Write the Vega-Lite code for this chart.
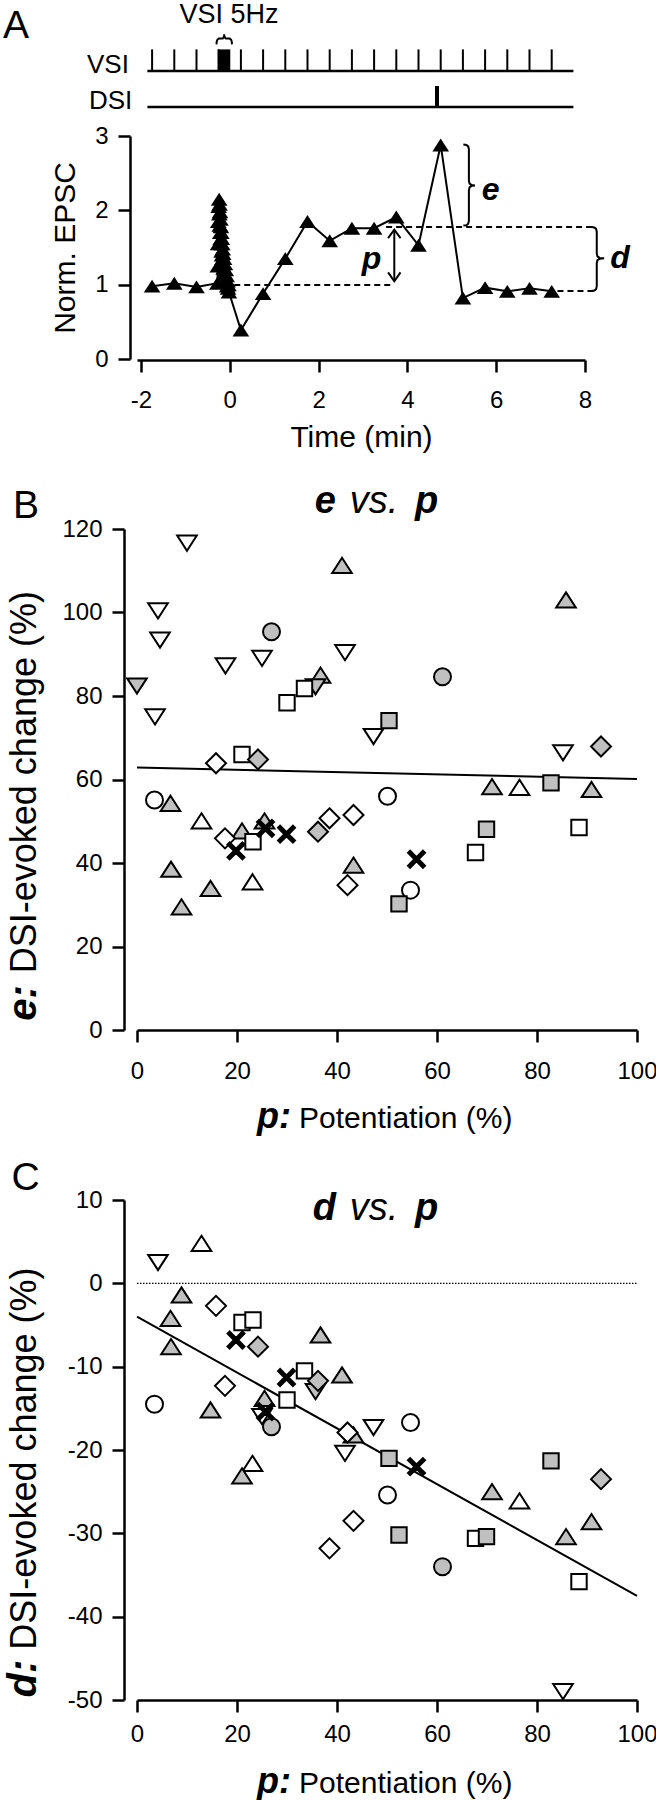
{
  "$schema": "https://vega.github.io/schema/vega-lite/v6.json",
  "padding": {"left": 2, "top": 0, "right": 0, "bottom": 0},
  "bounds": "flush",
  "columns": 1,
  "spacing": 170,
  "config": {
    "font": "Liberation Sans",
    "view": {"stroke": null},
    "axis": {"domainColor": "black", "domainWidth": 2.5, "tickColor": "black", "tickWidth": 2.5, "tickSize": 12, "labelFontSize": 24, "labelColor": "black", "titleFontSize": 30, "titleFontWeight": "normal", "titleColor": "black", "grid": false, "labelFlush": false, "labelOverlap": false, "labelFont": "Liberation Sans", "titleFont": "Liberation Sans", "labelExpr": "'' + datum.value"},
    "text": {"color": "black"}
  },
  "datasets": {
    "epsc": [
      {"i": 0, "t": -1.75, "v": 0.98}, {"i": 1, "t": -1.25, "v": 1.02}, {"i": 2, "t": -0.75, "v": 0.97},
      {"i": 3, "t": -0.28, "v": 1.02}, {"i": 4, "t": -0.27, "v": 1.25}, {"i": 5, "t": -0.265, "v": 1.55}, {"i": 6, "t": -0.26, "v": 1.85},
      {"i": 7, "t": -0.25, "v": 2.05}, {"i": 8, "t": -0.24, "v": 2.15}, {"i": 9, "t": -0.235, "v": 1.95}, {"i": 10, "t": -0.23, "v": 2.08},
      {"i": 11, "t": -0.225, "v": 1.8}, {"i": 12, "t": -0.22, "v": 1.98}, {"i": 13, "t": -0.215, "v": 1.7}, {"i": 14, "t": -0.21, "v": 1.88},
      {"i": 15, "t": -0.205, "v": 1.62}, {"i": 16, "t": -0.2, "v": 1.78}, {"i": 17, "t": -0.195, "v": 1.55}, {"i": 18, "t": -0.19, "v": 1.7},
      {"i": 19, "t": -0.185, "v": 1.45}, {"i": 20, "t": -0.18, "v": 1.62}, {"i": 21, "t": -0.175, "v": 1.4}, {"i": 22, "t": -0.17, "v": 1.55},
      {"i": 23, "t": -0.165, "v": 1.35}, {"i": 24, "t": -0.16, "v": 1.48}, {"i": 25, "t": -0.155, "v": 1.28}, {"i": 26, "t": -0.15, "v": 1.42},
      {"i": 27, "t": -0.14, "v": 1.22}, {"i": 28, "t": -0.13, "v": 1.35}, {"i": 29, "t": -0.12, "v": 1.15}, {"i": 30, "t": -0.11, "v": 1.28},
      {"i": 31, "t": -0.1, "v": 1.08}, {"i": 32, "t": -0.09, "v": 1.2}, {"i": 33, "t": -0.08, "v": 1.05}, {"i": 34, "t": -0.07, "v": 1.12},
      {"i": 35, "t": -0.06, "v": 0.98}, {"i": 36, "t": -0.05, "v": 1.05}, {"i": 37, "t": -0.04, "v": 0.95}, {"i": 38, "t": -0.03, "v": 1.0},
      {"i": 39, "t": -0.02, "v": 0.9},
      {"i": 40, "t": 0.25, "v": 0.39}, {"i": 41, "t": 0.75, "v": 0.88}, {"i": 42, "t": 1.25, "v": 1.35}, {"i": 43, "t": 1.75, "v": 1.85},
      {"i": 44, "t": 2.25, "v": 1.59}, {"i": 45, "t": 2.75, "v": 1.76}, {"i": 46, "t": 3.25, "v": 1.76}, {"i": 47, "t": 3.75, "v": 1.91},
      {"i": 48, "t": 4.25, "v": 1.53}, {"i": 49, "t": 4.75, "v": 2.88}, {"i": 50, "t": 5.25, "v": 0.82}, {"i": 51, "t": 5.75, "v": 0.96},
      {"i": 52, "t": 6.25, "v": 0.91}, {"i": 53, "t": 6.75, "v": 0.95}, {"i": 54, "t": 7.25, "v": 0.91}
    ],
    "vsi": [
      {"t": -1.75}, {"t": -1.25}, {"t": -0.75}, {"t": -0.25}, {"t": 0.25}, {"t": 0.75}, {"t": 1.25}, {"t": 1.75}, {"t": 2.25}, {"t": 2.75},
      {"t": 3.25}, {"t": 3.75}, {"t": 4.25}, {"t": 4.75}, {"t": 5.25}, {"t": 5.75}, {"t": 6.25}, {"t": 6.75}, {"t": 7.25}
    ],
    "dashA": [
      {"t1": 0.10, "t2": 3.70, "v": 0.995},
      {"t1": 3.52, "t2": 8.21, "v": 1.776},
      {"t1": 7.38, "t2": 8.21, "v": 0.915}
    ],
    "annA": [
      {"g": "bt", "i": 0, "t": -0.30, "v": 4.232}, {"g": "bt", "i": 1, "t": -0.295, "v": 4.27}, {"g": "bt", "i": 2, "t": -0.28, "v": 4.295},
      {"g": "bt", "i": 3, "t": -0.25, "v": 4.31}, {"g": "bt", "i": 4, "t": -0.16, "v": 4.31}, {"g": "bt", "i": 5, "t": -0.14, "v": 4.325},
      {"g": "bt", "i": 6, "t": -0.13, "v": 4.35}, {"g": "bt", "i": 7, "t": -0.126, "v": 4.367}, {"g": "bt", "i": 8, "t": -0.122, "v": 4.35},
      {"g": "bt", "i": 9, "t": -0.112, "v": 4.325}, {"g": "bt", "i": 10, "t": -0.09, "v": 4.31}, {"g": "bt", "i": 11, "t": 0.0, "v": 4.31},
      {"g": "bt", "i": 12, "t": 0.03, "v": 4.295}, {"g": "bt", "i": 13, "t": 0.044, "v": 4.27}, {"g": "bt", "i": 14, "t": 0.049, "v": 4.232},
      {"g": "be", "i": 0, "t": 5.26, "v": 2.887}, {"g": "be", "i": 1, "t": 5.33, "v": 2.88}, {"g": "be", "i": 2, "t": 5.37, "v": 2.86},
      {"g": "be", "i": 3, "t": 5.385, "v": 2.82}, {"g": "be", "i": 4, "t": 5.385, "v": 2.40}, {"g": "be", "i": 5, "t": 5.40, "v": 2.36},
      {"g": "be", "i": 6, "t": 5.45, "v": 2.34}, {"g": "be", "i": 7, "t": 5.52, "v": 2.335}, {"g": "be", "i": 8, "t": 5.45, "v": 2.33},
      {"g": "be", "i": 9, "t": 5.40, "v": 2.31}, {"g": "be", "i": 10, "t": 5.385, "v": 2.27}, {"g": "be", "i": 11, "t": 5.385, "v": 1.86},
      {"g": "be", "i": 12, "t": 5.37, "v": 1.82}, {"g": "be", "i": 13, "t": 5.33, "v": 1.80}, {"g": "be", "i": 14, "t": 5.26, "v": 1.797},
      {"g": "bd", "i": 0, "t": 8.14, "v": 1.776}, {"g": "bd", "i": 1, "t": 8.21, "v": 1.77}, {"g": "bd", "i": 2, "t": 8.25, "v": 1.75},
      {"g": "bd", "i": 3, "t": 8.265, "v": 1.71}, {"g": "bd", "i": 4, "t": 8.265, "v": 1.42}, {"g": "bd", "i": 5, "t": 8.28, "v": 1.38},
      {"g": "bd", "i": 6, "t": 8.33, "v": 1.36}, {"g": "bd", "i": 7, "t": 8.43, "v": 1.354}, {"g": "bd", "i": 8, "t": 8.33, "v": 1.348},
      {"g": "bd", "i": 9, "t": 8.28, "v": 1.33}, {"g": "bd", "i": 10, "t": 8.265, "v": 1.29}, {"g": "bd", "i": 11, "t": 8.265, "v": 0.98},
      {"g": "bd", "i": 12, "t": 8.25, "v": 0.94}, {"g": "bd", "i": 13, "t": 8.21, "v": 0.92}, {"g": "bd", "i": 14, "t": 8.14, "v": 0.915},
      {"g": "sh", "i": 0, "t": 3.705, "v": 1.05}, {"g": "sh", "i": 1, "t": 3.705, "v": 1.735},
      {"g": "a1", "i": 0, "t": 3.565, "v": 1.625}, {"g": "a1", "i": 1, "t": 3.705, "v": 1.74}, {"g": "a1", "i": 2, "t": 3.845, "v": 1.625},
      {"g": "a2", "i": 0, "t": 3.565, "v": 1.165}, {"g": "a2", "i": 1, "t": 3.705, "v": 1.045}, {"g": "a2", "i": 2, "t": 3.845, "v": 1.165}
    ],
    "cells": [
      {"sym": "o", "fill": "w", "p": 3.5, "e": 55.1, "d": -14.5},
      {"sym": "o", "fill": "w", "p": 50.1, "e": 56.0, "d": -25.4},
      {"sym": "o", "fill": "w", "p": 54.7, "e": 33.5, "d": -16.7},
      {"sym": "o", "fill": "g", "p": 26.9, "e": 95.4, "d": -17.2},
      {"sym": "o", "fill": "g", "p": 61.1, "e": 84.6, "d": -34.0},
      {"sym": "t", "fill": "w", "p": 12.9, "e": 50.1, "d": 4.8},
      {"sym": "t", "fill": "w", "p": 23.1, "e": 35.5, "d": -21.6},
      {"sym": "t", "fill": "w", "p": 76.5, "e": 58.1, "d": -26.1},
      {"sym": "t", "fill": "g", "p": 41.0, "e": 111.3, "d": -11.0},
      {"sym": "t", "fill": "g", "p": 85.8, "e": 103.0, "d": -30.4},
      {"sym": "t", "fill": "g", "p": 36.7, "e": 85.0, "d": -6.2},
      {"sym": "t", "fill": "g", "p": 71.0, "e": 58.3, "d": -25.0},
      {"sym": "t", "fill": "g", "p": 90.9, "e": 57.6, "d": -28.6},
      {"sym": "t", "fill": "g", "p": 6.7, "e": 54.3, "d": -4.2},
      {"sym": "t", "fill": "g", "p": 21.0, "e": 47.7, "d": -23.1},
      {"sym": "t", "fill": "g", "p": 25.5, "e": 50.1, "d": -13.8},
      {"sym": "t", "fill": "g", "p": 6.8, "e": 38.5, "d": -7.6},
      {"sym": "t", "fill": "g", "p": 14.7, "e": 33.9, "d": -15.2},
      {"sym": "t", "fill": "g", "p": 8.9, "e": 29.5, "d": -1.4},
      {"sym": "t", "fill": "g", "p": 43.3, "e": 39.5, "d": -18.2},
      {"sym": "v", "fill": "w", "p": 10.0, "e": 116.6, "d": null},
      {"sym": "v", "fill": "w", "p": 4.2, "e": 100.4, "d": 2.5},
      {"sym": "v", "fill": "w", "p": 4.6, "e": 93.4, "d": null},
      {"sym": "v", "fill": "w", "p": 41.6, "e": 90.4, "d": -20.4},
      {"sym": "v", "fill": "w", "p": 25.0, "e": 89.0, "d": -16.0},
      {"sym": "v", "fill": "w", "p": 17.7, "e": 87.2, "d": null},
      {"sym": "v", "fill": "w", "p": 3.6, "e": 75.0, "d": null},
      {"sym": "v", "fill": "w", "p": 47.3, "e": 70.3, "d": -17.3},
      {"sym": "v", "fill": "w", "p": 85.2, "e": 66.4, "d": -49.0},
      {"sym": "v", "fill": "g", "p": 0.0, "e": 82.4, "d": null},
      {"sym": "v", "fill": "g", "p": 35.7, "e": 82.2, "d": -13.0},
      {"sym": "s", "fill": "w", "p": 33.5, "e": 81.8, "d": -10.5},
      {"sym": "s", "fill": "w", "p": 30.0, "e": 78.4, "d": -14.0},
      {"sym": "s", "fill": "w", "p": 21.0, "e": 66.0, "d": -4.7},
      {"sym": "s", "fill": "w", "p": 23.2, "e": 45.1, "d": -4.4},
      {"sym": "s", "fill": "w", "p": 67.7, "e": 42.5, "d": -30.6},
      {"sym": "s", "fill": "w", "p": 88.4, "e": 48.5, "d": -35.8},
      {"sym": "s", "fill": "g", "p": 50.4, "e": 74.1, "d": -21.0},
      {"sym": "s", "fill": "g", "p": 82.8, "e": 59.2, "d": -21.3},
      {"sym": "s", "fill": "g", "p": 52.4, "e": 30.2, "d": -30.2},
      {"sym": "s", "fill": "g", "p": 69.9, "e": 48.1, "d": -30.4},
      {"sym": "d", "fill": "w", "p": 15.8, "e": 63.9, "d": -2.7},
      {"sym": "d", "fill": "w", "p": 17.6, "e": 45.9, "d": -12.3},
      {"sym": "d", "fill": "w", "p": 38.5, "e": 50.7, "d": -31.8},
      {"sym": "d", "fill": "w", "p": 43.3, "e": 51.5, "d": -28.5},
      {"sym": "d", "fill": "w", "p": 42.1, "e": 34.7, "d": -17.9},
      {"sym": "d", "fill": "g", "p": 24.2, "e": 64.8, "d": -7.6},
      {"sym": "d", "fill": "g", "p": 36.2, "e": 47.5, "d": -11.7},
      {"sym": "d", "fill": "g", "p": 92.8, "e": 67.9, "d": -23.5},
      {"sym": "x", "fill": "k", "p": 19.8, "e": 42.9, "d": -6.8},
      {"sym": "x", "fill": "k", "p": 25.7, "e": 48.3, "d": -15.4},
      {"sym": "x", "fill": "k", "p": 29.9, "e": 46.9, "d": -11.3},
      {"sym": "x", "fill": "k", "p": 55.9, "e": 40.9, "d": -22.0}
    ],
    "fitB": [{"p": 0, "e": 62.9}, {"p": 100, "e": 60.1}],
    "fitC": [{"p": 0, "d": -4.0}, {"p": 100, "d": -37.5}]
  },
  "concat": [
    {
      "width": 448,
      "height": 223,
      "layer": [
        {
          "data": {"name": "vsi"},
          "mark": {"type": "rule", "color": "black", "strokeWidth": 2},
          "encoding": {
            "x": {"field": "t", "type": "quantitative", "title": "Time (min)", "scale": {"domain": [-2.09, 8], "nice": false, "zero": false},
                  "axis": {"values": [-2, 0, 2, 4, 6, 8], "offset": 1, "labelPadding": 16, "titlePadding": 10}},
            "y": {"datum": 3.874, "type": "quantitative", "title": "Norm. EPSC", "scale": {"domain": [0, 3], "nice": false, "zero": false},
                  "axis": {"values": [0, 1, 2, 3], "offset": 7, "labelPadding": 10, "titlePadding": 14}},
            "y2": {"datum": 4.165}
          }
        },
        {
          "data": {"values": [{}]},
          "mark": {"type": "rect", "color": "black"},
          "encoding": {"x": {"datum": -0.272}, "x2": {"datum": 0.011}, "y": {"datum": 3.874}, "y2": {"datum": 4.165}}
        },
        {
          "data": {"values": [{}]},
          "mark": {"type": "rule", "color": "black", "strokeWidth": 2.5},
          "encoding": {"x": {"datum": -1.856}, "x2": {"datum": 7.739}, "y": {"datum": 3.874}}
        },
        {
          "data": {"values": [{}]},
          "mark": {"type": "rule", "color": "black", "strokeWidth": 2.5},
          "encoding": {"x": {"datum": -1.856}, "x2": {"datum": 7.739}, "y": {"datum": 3.39}}
        },
        {
          "data": {"values": [{}]},
          "mark": {"type": "rule", "color": "black", "strokeWidth": 4},
          "encoding": {"x": {"datum": 4.667}, "y": {"datum": 3.39}, "y2": {"datum": 3.673}}
        },
        {
          "data": {"name": "dashA"},
          "mark": {"type": "rule", "color": "black", "strokeWidth": 2, "strokeDash": [6, 4]},
          "encoding": {"x": {"field": "t1", "type": "quantitative", "title": "Time (min)"}, "x2": {"field": "t2"}, "y": {"field": "v", "type": "quantitative", "title": "Norm. EPSC"}}
        },
        {
          "data": {"name": "annA"},
          "mark": {"type": "line", "color": "black", "strokeWidth": 2},
          "encoding": {
            "x": {"field": "t", "type": "quantitative", "title": "Time (min)"},
            "y": {"field": "v", "type": "quantitative", "title": "Norm. EPSC"},
            "detail": {"field": "g"},
            "order": {"field": "i", "type": "quantitative"}
          }
        },
        {
          "data": {"name": "epsc"},
          "mark": {"type": "line", "color": "black", "strokeWidth": 2},
          "encoding": {
            "x": {"field": "t", "type": "quantitative", "title": "Time (min)"},
            "y": {"field": "v", "type": "quantitative", "title": "Norm. EPSC"},
            "order": {"field": "i", "type": "quantitative"}
          }
        },
        {
          "data": {"name": "epsc"},
          "mark": {"type": "point", "filled": true, "color": "black", "opacity": 1, "size": 289, "shape": "M0,-0.76L0.98,0.76L-0.98,0.76Z"},
          "encoding": {
            "x": {"field": "t", "type": "quantitative", "title": "Time (min)"},
            "y": {"field": "v", "type": "quantitative", "title": "Norm. EPSC"}
          }
        },
        {
          "data": {"values": [{}]},
          "mark": {"type": "text", "text": "A", "fontSize": 39, "align": "left", "baseline": "alphabetic"},
          "encoding": {"x": {"datum": -5.108}, "y": {"datum": 4.322}}
        },
        {
          "data": {"values": [{}]},
          "mark": {"type": "text", "text": "VSI", "fontSize": 26, "align": "left", "baseline": "alphabetic"},
          "encoding": {"x": {"datum": -3.216}, "y": {"datum": 3.852}}
        },
        {
          "data": {"values": [{}]},
          "mark": {"type": "text", "text": "DSI", "fontSize": 26, "align": "left", "baseline": "alphabetic"},
          "encoding": {"x": {"datum": -3.171}, "y": {"datum": 3.367}}
        },
        {
          "data": {"values": [{}]},
          "mark": {"type": "text", "text": "VSI 5Hz", "fontSize": 27, "align": "center", "baseline": "alphabetic"},
          "encoding": {"x": {"datum": -0.018}, "y": {"datum": 4.524}}
        },
        {
          "data": {"values": [{}]},
          "mark": {"type": "text", "text": "e", "fontSize": 32, "fontWeight": "bold", "fontStyle": "italic", "align": "center", "baseline": "alphabetic"},
          "encoding": {"x": {"datum": 5.876}, "y": {"datum": 2.139}}
        },
        {
          "data": {"values": [{}]},
          "mark": {"type": "text", "text": "d", "fontSize": 32, "fontWeight": "bold", "fontStyle": "italic", "align": "center", "baseline": "alphabetic"},
          "encoding": {"x": {"datum": 8.79}, "y": {"datum": 1.228}}
        },
        {
          "data": {"values": [{}]},
          "mark": {"type": "text", "text": "p", "fontSize": 32, "fontWeight": "bold", "fontStyle": "italic", "align": "center", "baseline": "alphabetic"},
          "encoding": {"x": {"datum": 3.19}, "y": {"datum": 1.215}}
        }
      ]
    },
    {
      "width": 500,
      "height": 501,
      "layer": [
        {
          "data": {"name": "fitB"},
          "mark": {"type": "line", "color": "black", "strokeWidth": 2},
          "encoding": {
            "x": {"field": "p", "type": "quantitative", "title": null, "scale": {"domain": [0, 100], "nice": false, "zero": false},
                  "axis": {"values": [0, 20, 40, 60, 80, 100], "offset": 0, "labelPadding": 17}},
            "y": {"field": "e", "type": "quantitative", "title": null, "scale": {"domain": [0, 120], "nice": false, "zero": false},
                  "axis": {"values": [0, 20, 40, 60, 80, 100, 120], "offset": 13, "labelPadding": 10}}
          }
        },
        {
          "data": {"name": "cells"},
          "mark": {"type": "point", "filled": true, "opacity": 1, "size": 400, "stroke": "black", "strokeWidth": 2},
          "encoding": {
            "x": {"field": "p", "type": "quantitative", "title": null},
            "y": {"field": "e", "type": "quantitative", "title": null},
            "shape": {"field": "sym", "type": "nominal", "legend": null,
              "scale": {"domain": ["o", "t", "v", "s", "d", "x"],
                        "range": ["M0.85,0A0.85,0.85,0,1,1,-0.85,0A0.85,0.85,0,1,1,0.85,0Z", "M0,-0.76L0.98,0.76L-0.98,0.76Z", "M0,0.76L0.98,-0.76L-0.98,-0.76Z", "M-0.77,-0.77L0.77,-0.77L0.77,0.77L-0.77,0.77Z", "M0,-1L1,0L0,1L-1,0Z", "M-0.85,-0.64L-0.64,-0.85L0,-0.21L0.64,-0.85L0.85,-0.64L0.21,0L0.85,0.64L0.64,0.85L0,0.21L-0.64,0.85L-0.85,0.64L-0.21,0Z"]}},
            "fill": {"field": "fill", "type": "nominal", "legend": null,
              "scale": {"domain": ["w", "g", "k"], "range": ["#ffffff", "#c0c0c0", "#000000"]}}
          }
        },
        {
          "data": {"values": [{}]},
          "mark": {"type": "text", "text": "B", "fontSize": 39, "align": "left", "baseline": "alphabetic"},
          "encoding": {"x": {"datum": -24.8}, "y": {"datum": 122.6}}
        },
        {
          "data": {"values": [{}]},
          "mark": {"type": "text", "text": "e", "fontSize": 38, "fontWeight": "bold", "fontStyle": "italic", "align": "right", "baseline": "alphabetic"},
          "encoding": {"x": {"datum": 39.8}, "y": {"datum": 123.8}}
        },
        {
          "data": {"values": [{}]},
          "mark": {"type": "text", "text": "vs.", "fontSize": 38, "fontStyle": "italic", "align": "center", "baseline": "alphabetic"},
          "encoding": {"x": {"datum": 47.4}, "y": {"datum": 123.8}}
        },
        {
          "data": {"values": [{}]},
          "mark": {"type": "text", "text": "p", "fontSize": 38, "fontWeight": "bold", "fontStyle": "italic", "align": "left", "baseline": "alphabetic"},
          "encoding": {"x": {"datum": 55.6}, "y": {"datum": 123.8}}
        },
        {
          "data": {"values": [{}]},
          "mark": {"type": "text", "text": "p:", "fontSize": 36, "fontWeight": "bold", "fontStyle": "italic", "align": "right", "baseline": "alphabetic"},
          "encoding": {"x": {"datum": 30.8}, "y": {"datum": -23.5}}
        },
        {
          "data": {"values": [{}]},
          "mark": {"type": "text", "text": "Potentiation (%)", "fontSize": 30, "align": "left", "baseline": "alphabetic"},
          "encoding": {"x": {"datum": 32.4}, "y": {"datum": -23.5}}
        },
        {
          "data": {"values": [{}]},
          "mark": {"type": "text", "text": "e:", "fontSize": 40, "fontWeight": "bold", "fontStyle": "italic", "align": "left", "baseline": "alphabetic", "angle": 270},
          "encoding": {"x": {"datum": -20.3}, "y": {"datum": 2.2}}
        },
        {
          "data": {"values": [{}]},
          "mark": {"type": "text", "text": "DSI-evoked change (%)", "fontSize": 36, "align": "left", "baseline": "alphabetic", "angle": 270},
          "encoding": {"x": {"datum": -20.3}, "y": {"datum": 13.6}}
        }
      ]
    },
    {
      "width": 500,
      "height": 500,
      "layer": [
        {
          "data": {"values": [{}]},
          "mark": {"type": "rule", "color": "black", "strokeWidth": 1.2, "strokeDash": [1.5, 1.5]},
          "encoding": {
            "x": {"datum": 0, "scale": {"domain": [0, 100], "nice": false, "zero": false},
                  "axis": {"values": [0, 20, 40, 60, 80, 100], "offset": 0, "labelPadding": 10, "title": null}},
            "x2": {"datum": 100},
            "y": {"datum": 0, "scale": {"domain": [-50, 10], "nice": false, "zero": false},
                  "axis": {"values": [-50, -40, -30, -20, -10, 0, 10], "offset": 13, "labelPadding": 10, "title": null}}
          }
        },
        {
          "data": {"name": "fitC"},
          "mark": {"type": "line", "color": "black", "strokeWidth": 2},
          "encoding": {
            "x": {"field": "p", "type": "quantitative", "title": null},
            "y": {"field": "d", "type": "quantitative", "title": null}
          }
        },
        {
          "data": {"name": "cells"},
          "transform": [{"filter": "datum.d != null"}],
          "mark": {"type": "point", "filled": true, "opacity": 1, "size": 400, "stroke": "black", "strokeWidth": 2},
          "encoding": {
            "x": {"field": "p", "type": "quantitative", "title": null},
            "y": {"field": "d", "type": "quantitative", "title": null},
            "shape": {"field": "sym", "type": "nominal", "legend": null,
              "scale": {"domain": ["o", "t", "v", "s", "d", "x"],
                        "range": ["M0.85,0A0.85,0.85,0,1,1,-0.85,0A0.85,0.85,0,1,1,0.85,0Z", "M0,-0.76L0.98,0.76L-0.98,0.76Z", "M0,0.76L0.98,-0.76L-0.98,-0.76Z", "M-0.77,-0.77L0.77,-0.77L0.77,0.77L-0.77,0.77Z", "M0,-1L1,0L0,1L-1,0Z", "M-0.85,-0.64L-0.64,-0.85L0,-0.21L0.64,-0.85L0.85,-0.64L0.21,0L0.85,0.64L0.64,0.85L0,0.21L-0.64,0.85L-0.85,0.64L-0.21,0Z"]}},
            "fill": {"field": "fill", "type": "nominal", "legend": null,
              "scale": {"domain": ["w", "g", "k"], "range": ["#ffffff", "#c0c0c0", "#000000"]}}
          }
        },
        {
          "data": {"values": [{}]},
          "mark": {"type": "text", "text": "C", "fontSize": 39, "align": "left", "baseline": "alphabetic"},
          "encoding": {"x": {"datum": -25.1}, "y": {"datum": 11.16}}
        },
        {
          "data": {"values": [{}]},
          "mark": {"type": "text", "text": "d", "fontSize": 38, "fontWeight": "bold", "fontStyle": "italic", "align": "right", "baseline": "alphabetic"},
          "encoding": {"x": {"datum": 39.8}, "y": {"datum": 7.6}}
        },
        {
          "data": {"values": [{}]},
          "mark": {"type": "text", "text": "vs.", "fontSize": 38, "fontStyle": "italic", "align": "center", "baseline": "alphabetic"},
          "encoding": {"x": {"datum": 47.4}, "y": {"datum": 7.6}}
        },
        {
          "data": {"values": [{}]},
          "mark": {"type": "text", "text": "p", "fontSize": 38, "fontWeight": "bold", "fontStyle": "italic", "align": "left", "baseline": "alphabetic"},
          "encoding": {"x": {"datum": 55.6}, "y": {"datum": 7.6}}
        },
        {
          "data": {"values": [{}]},
          "mark": {"type": "text", "text": "p:", "fontSize": 36, "fontWeight": "bold", "fontStyle": "italic", "align": "right", "baseline": "alphabetic"},
          "encoding": {"x": {"datum": 30.8}, "y": {"datum": -61.2}}
        },
        {
          "data": {"values": [{}]},
          "mark": {"type": "text", "text": "Potentiation (%)", "fontSize": 30, "align": "left", "baseline": "alphabetic"},
          "encoding": {"x": {"datum": 32.4}, "y": {"datum": -61.2}}
        },
        {
          "data": {"values": [{}]},
          "mark": {"type": "text", "text": "d:", "fontSize": 40, "fontWeight": "bold", "fontStyle": "italic", "align": "left", "baseline": "alphabetic", "angle": 270},
          "encoding": {"x": {"datum": -20.3}, "y": {"datum": -49.7}}
        },
        {
          "data": {"values": [{}]},
          "mark": {"type": "text", "text": "DSI-evoked change (%)", "fontSize": 36, "align": "left", "baseline": "alphabetic", "angle": 270},
          "encoding": {"x": {"datum": -20.3}, "y": {"datum": -43.96}}
        }
      ]
    }
  ]
}
